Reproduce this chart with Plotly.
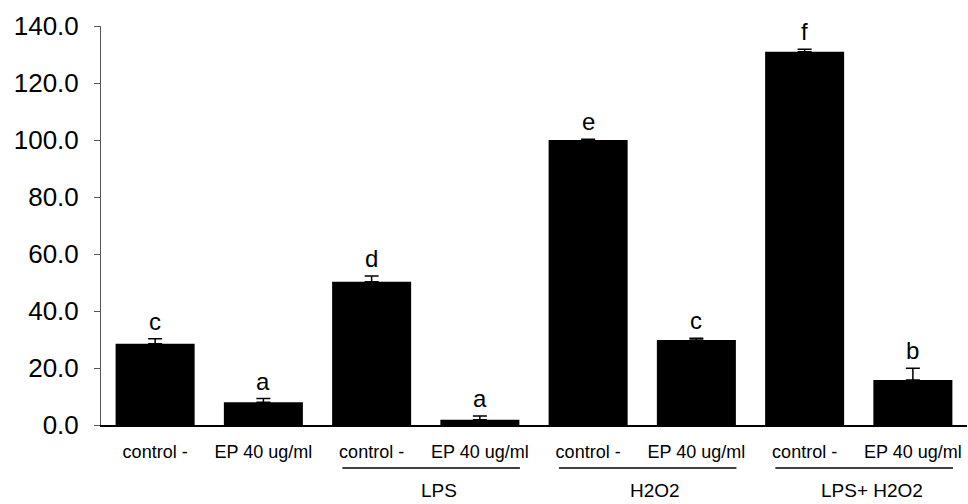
import plotly.graph_objects as go

categories = ["control -", "EP 40 ug/ml", "control -", "EP 40 ug/ml",
              "control -", "EP 40 ug/ml", "control -", "EP 40 ug/ml"]
values = [28.5, 8.0, 50.3, 1.8, 100.0, 29.8, 131.0, 15.8]
errors = [1.8, 1.3, 2.0, 1.4, 0.3, 0.6, 0.8, 4.1]
letters = ["c", "a", "d", "a", "e", "c", "f", "b"]
groups = ["LPS", "H2O2", "LPS+ H2O2"]
group_members = [[2, 3], [4, 5], [6, 7]]
y_ticks = [0, 20, 40, 60, 80, 100, 120, 140]

FONT = "Liberation Sans, Arial, sans-serif"
x = list(range(len(categories)))

fig = go.Figure()
fig.add_trace(go.Bar(
    x=x, y=values,
    marker=dict(color="black", line=dict(width=0)),
    error_y=dict(type="data", array=errors, arrayminus=[0] * len(errors),
                 symmetric=False, color="black", thickness=1.5, width=7),
    showlegend=False,
))

for xi, v, e, t in zip(x, values, errors, letters):
    fig.add_annotation(x=xi, y=v + e, text=t, showarrow=False,
                       yanchor="bottom", yshift=2,
                       font=dict(family=FONT, size=24, color="black"))

for g, members in zip(groups, group_members):
    x0, x1 = min(members) - 0.27, max(members) + 0.37
    fig.add_shape(type="line", xref="x", yref="paper", x0=x0, x1=x1,
                  y0=-0.108, y1=-0.108, line=dict(color="black", width=1.5))
    fig.add_annotation(x=(min(members) + max(members)) / 2 + 0.12, xref="x",
                       y=-0.163, yref="paper",
                       text=g, showarrow=False, yanchor="middle",
                       font=dict(family=FONT, size=19, color="black"))

fig.update_layout(
    width=968, height=504,
    margin=dict(l=101, r=1, t=26, b=79),
    paper_bgcolor="white", plot_bgcolor="white",
    bargap=0.27,
    font=dict(family=FONT, color="black"),
    xaxis=dict(range=[-0.5, 7.5], tickmode="array", tickvals=x, ticktext=categories,
               showline=True, linecolor="black", linewidth=1.5, ticks="",
               showgrid=False, zeroline=False, ticklabelstandoff=10,
               tickfont=dict(family=FONT, size=18, color="black")),
    yaxis=dict(range=[0, 140], tickmode="array", tickvals=y_ticks,
               ticktext=[f"{v:.1f}" for v in y_ticks],
               showline=True, linecolor="#555555", linewidth=1, ticks="outside",
               ticklen=6, tickcolor="#555555", showgrid=False, zeroline=False,
               ticklabelstandoff=10,
               tickfont=dict(family=FONT, size=26, color="black")),
)

fig.write_html("out.html")
